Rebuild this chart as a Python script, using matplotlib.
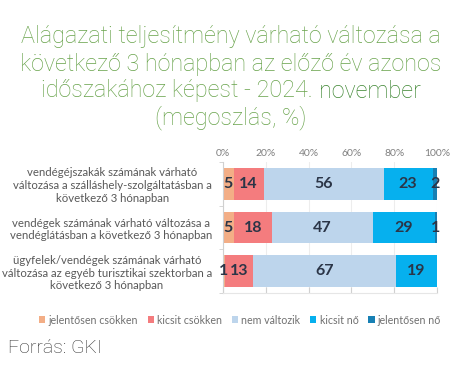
import matplotlib.pyplot as plt
from matplotlib.patches import Patch

# adatok
kategoriak = [
    "vendégéjszakák számának várható\nváltozása a szálláshely-szolgáltatásban a\nkövetkező 3 hónapban",
    "vendégek számának várható változása a\nvendéglátásban a következő 3 hónapban",
    "ügyfelek/vendégek számának várható\nváltozása az egyéb turisztikai szektorban a\nkövetkező 3 hónapban",
]
sorozatok = ["jelentősen csökken", "kicsit csökken", "nem változik", "kicsit nő", "jelentősen nő"]
jelentosen_csokken = [5, 5, 1]
kicsit_csokken = [14, 18, 13]
nem_valtozik = [56, 47, 67]
kicsit_no = [23, 29, 19]
jelentosen_no = [2, 1, 0]
szinek = ["#F3AE86", "#F47C7E", "#BDD5EC", "#06B0EE", "#1780B4"]
tick_cimkek = ["0%", "20%", "40%", "60%", "80%", "100%"]

ertekek = [jelentosen_csokken, kicsit_csokken, nem_valtozik, kicsit_no, jelentosen_no]

fig = plt.figure(figsize=(4.62, 3.79), dpi=100)
ax = fig.add_axes([223 / 462, 1 - 293 / 379, 214 / 462, 131 / 379])

y = list(range(len(kategoriak)))
bal = [0] * len(kategoriak)
for nev, vals, szin in zip(sorozatok, ertekek, szinek):
    ax.barh(y, vals, left=bal, height=0.73, color=szin, label=nev)
    for i, v in enumerate(vals):
        if v > 0:
            ax.text(bal[i] + v / 2, y[i], str(v), ha="center", va="center",
                    fontsize=11.5, fontweight="bold", color="#2B3547", family="Lato")
    bal = [b + v for b, v in zip(bal, vals)]

ax.set_xlim(0, 100)
ax.set_ylim(2.5, -0.5)
ax.set_xticks([0, 20, 40, 60, 80, 100])
ax.set_xticklabels(tick_cimkek)
ax.xaxis.grid(True, color="#EDEDED", linewidth=0.8)
ax.set_axisbelow(True)
ax.tick_params(axis="x", top=False, bottom=True, labeltop=True, labelbottom=False,
               direction="in", length=4, color="#D0D0D0", labelsize=7.5, labelcolor="#808080", pad=3)
for t in ax.get_xticklabels():
    t.set_family("Lato")

ax.set_yticks(y)
ax.set_yticklabels(kategoriak, fontsize=8.2, color="#595959", family="Lato",
                   multialignment="center", linespacing=1.2)
ax.set_yticks([-0.5, 0.5, 1.5, 2.5], minor=True)
ax.tick_params(axis="y", which="major", length=0, pad=8)
ax.tick_params(axis="y", which="minor", length=3, color="#D0D0D0")
for s in ["top", "right"]:
    ax.spines[s].set_visible(False)
ax.spines["left"].set_color("#D0D0D0")
ax.spines["bottom"].set_color("#E6E6E6")

# legend
kezek = [Patch(facecolor=c, label=n) for n, c in zip(sorozatok, szinek)]
fig.legend(handles=kezek, loc="center", bbox_to_anchor=(240 / 462, 1 - 320 / 379), ncol=5,
           frameon=False, handlelength=0.6, handleheight=0.6,
           handletextpad=0.3, columnspacing=0.9, labelcolor="#707070",
           prop={"family": "Lato", "size": 7.7})

# cím
zold = "#68A34B"
sotetzold = "#3C8530"
betu = dict(family="Roboto", fontweight="light")
fig.canvas.draw()
r = fig.canvas.get_renderer()
proba = fig.text(0, 0, "Alágazati teljesítmény várható változása a", fontsize=10, **betu)
meret = 10 * 422 / proba.get_window_extent(r).width
proba.remove()

sorok = ["Alágazati teljesítmény várható változása a",
         "következő 3 hónapban az előző év azonos",
         None,
         "(megoszlás, %)"]
ys = [37, 64, 91, 118]
for s, yy in zip(sorok, ys):
    if s:
        fig.text(0.5, 1 - yy / 379, s, ha="center", va="center", fontsize=meret,
                 color=zold, **betu)

# harmadik sor két színnel
t1 = fig.text(0, 0, "időszakához képest - 2024. ", fontsize=meret, color=zold, **betu)
t2 = fig.text(0, 0, "november", fontsize=meret, color=sotetzold, **betu)
w1 = t1.get_window_extent(r).width
w2 = t2.get_window_extent(r).width
x0 = (462 - w1 - w2) / 2
t1.set_position((x0 / 462, 1 - 91 / 379))
t1.set_va("center")
t2.set_position(((x0 + w1) / 462, 1 - 91 / 379))
t2.set_va("center")

fig.text(8 / 462, 1 - 348 / 379, "Forrás: GKI", ha="left", va="center", fontsize=14,
         color="#333333", **betu)

fig.savefig("out.png", dpi=100)
